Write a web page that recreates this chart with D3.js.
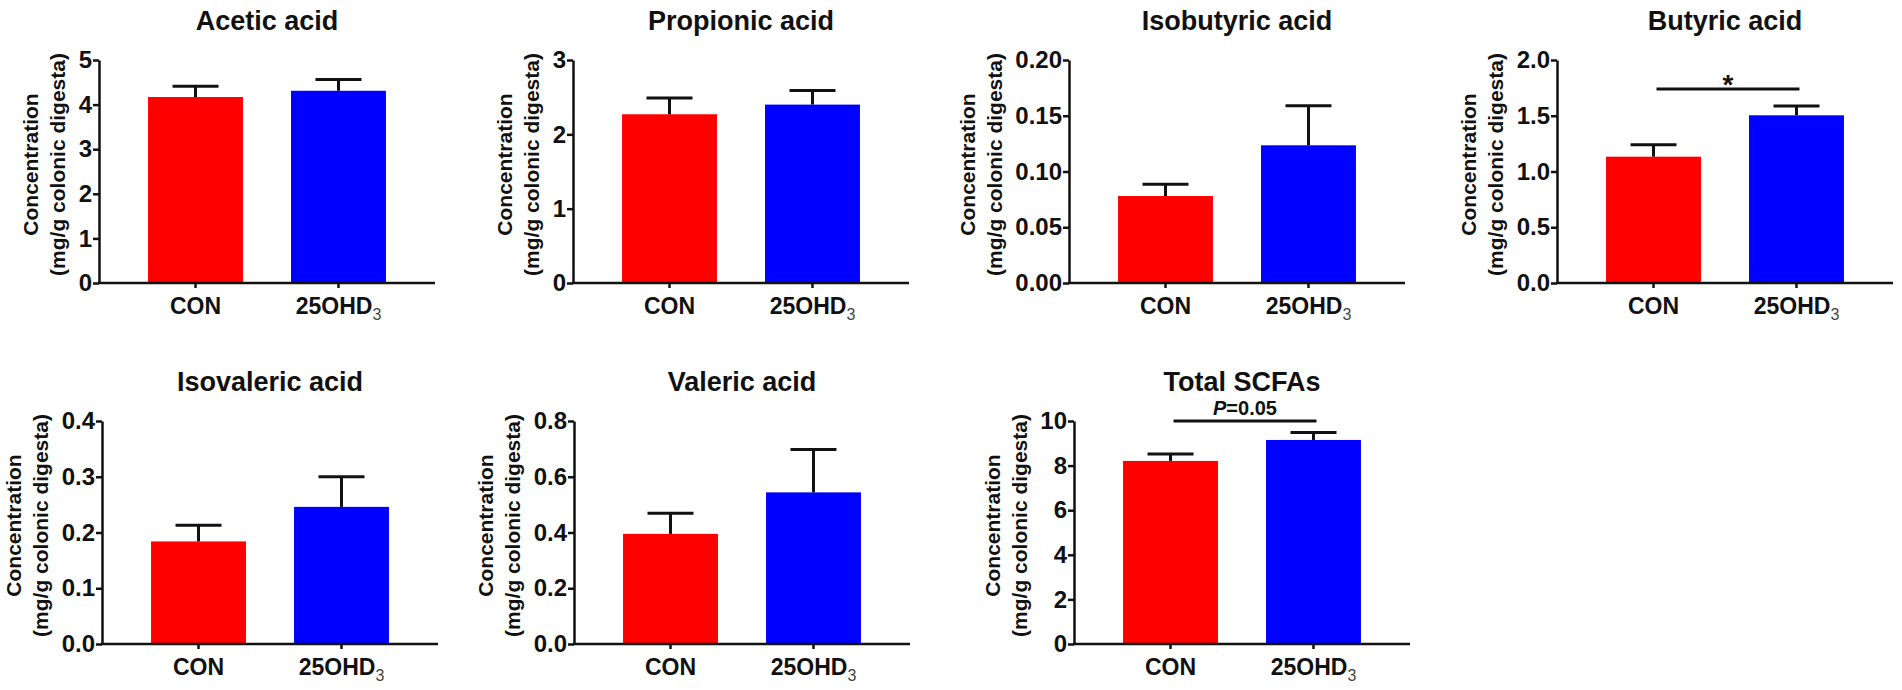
<!DOCTYPE html>
<html>
<head>
<meta charset="utf-8">
<script src="https://cdn.jsdelivr.net/npm/d3@7/dist/d3.min.js"></script>
<style>
  html, body { margin: 0; padding: 0; background: #fff; }
  svg { display: block; }
  text { font-family: "Liberation Sans", Arial, Helvetica, sans-serif; }
</style>
</head>
<body>
<svg id="chart" width="1902" height="690"></svg>
<script>
// ---------------- data ----------------
const groups = ["CON", "25OHD3"];
const panelTitles = ["Acetic acid", "Propionic acid", "Isobutyric acid", "Butyric acid",
                     "Isovaleric acid", "Valeric acid", "Total SCFAs"];
const conMeans  = [4.17, 2.27, 0.078, 1.133, 0.184, 0.395, 8.21];
const conSEM    = [0.24, 0.22, 0.0105, 0.107, 0.029, 0.074, 0.31];
const ohdMeans  = [4.31, 2.40, 0.1235, 1.504, 0.246, 0.544, 9.15];
const ohdSEM    = [0.25, 0.19, 0.0355, 0.083, 0.054, 0.154, 0.33];
const yMaxes    = [5, 3, 0.20, 2.0, 0.4, 0.8, 10];
const tickSteps = [1, 1, 0.05, 0.5, 0.1, 0.2, 2];
const tickFormats = ["d", "d", ".2f", ".1f", ".1f", ".1f", "d"];
const yLabelLines = ["Concentration", "(mg/g colonic digesta)"];
// significance annotations: panel index, bar level (data units), label
const sigPanels = [3, 6];
const sigLevels = [1.74, 10.0];
const sigLabels = ["*", "P=0.05"];

// ---------------- layout ----------------
const svg = d3.select("#chart");
const rowTop = [60, 421];
const plotH = 223;
const plotW = 336;
const colX = [[99, 573, 1069, 1557], [102, 574, 1074]];
const ink = "#111";

panelTitles.forEach((title, i) => {
  const row = i < 4 ? 0 : 1;
  const col = i < 4 ? i : i - 4;
  const ox = colX[row][col];
  const oy = rowTop[row];
  const g = svg.append("g").attr("transform", `translate(${ox},${oy})`);

  const x = d3.scaleBand().domain(groups).range([0, plotW])
    .paddingInner(0.336).paddingOuter(0.343);
  const y = d3.scaleLinear().domain([0, yMaxes[i]]).range([plotH, 0]);

  const means = [conMeans[i], ohdMeans[i]];
  const sems = [conSEM[i], ohdSEM[i]];
  const colors = ["#ff0000", "#0000ff"];

  // bars
  g.selectAll("rect.bar").data(groups).join("rect")
    .attr("class", "bar")
    .attr("x", d => x(d))
    .attr("width", x.bandwidth())
    .attr("y", (d, j) => y(means[j]))
    .attr("height", (d, j) => y(0) - y(means[j]))
    .attr("fill", (d, j) => colors[j]);

  // error bars (upper only)
  const capW = 46;
  groups.forEach((d, j) => {
    const cx = x(d) + x.bandwidth() / 2;
    g.append("line")
      .attr("x1", cx).attr("x2", cx)
      .attr("y1", y(means[j])).attr("y2", y(means[j] + sems[j]))
      .attr("stroke", ink).attr("stroke-width", 3);
    g.append("line")
      .attr("x1", cx - capW / 2).attr("x2", cx + capW / 2)
      .attr("y1", y(means[j] + sems[j])).attr("y2", y(means[j] + sems[j]))
      .attr("stroke", ink).attr("stroke-width", 3);
  });

  // y axis
  const ticks = d3.range(0, yMaxes[i] + tickSteps[i] / 2, tickSteps[i]);
  const yAxis = d3.axisLeft(y).tickValues(ticks)
    .tickFormat(d3.format(tickFormats[i]))
    .tickSize(6).tickSizeOuter(0).tickPadding(1);
  const ya = g.append("g").call(yAxis);
  ya.select(".domain").attr("stroke", ink).attr("stroke-width", 2.5);
  ya.selectAll(".tick line").attr("stroke", ink).attr("stroke-width", 2.5);
  ya.selectAll(".tick text")
    .attr("font-size", 24).attr("font-weight", "bold").attr("fill", ink)
    .attr("font-family", "Liberation Sans, Arial, sans-serif");

  // x axis
  const xAxis = d3.axisBottom(x).tickSize(5).tickSizeOuter(0).tickFormat("");
  const xa = g.append("g").attr("transform", `translate(0,${plotH})`).call(xAxis);
  xa.select(".domain").attr("stroke", ink).attr("stroke-width", 2.5)
    .attr("d", `M-1,0H${plotW}`);
  xa.selectAll(".tick line").attr("stroke", ink).attr("stroke-width", 2.5);

  // category labels
  groups.forEach(d => {
    const t = g.append("text")
      .attr("x", x(d) + x.bandwidth() / 2)
      .attr("y", plotH + 31)
      .attr("text-anchor", "middle")
      .attr("font-size", 23).attr("font-weight", "bold").attr("fill", ink);
    if (d === "25OHD3") {
      t.append("tspan").text("25OHD");
      t.append("tspan").text("3").attr("font-size", 16).attr("font-weight", "normal")
        .attr("fill", "#444").attr("dy", 6);
    } else {
      t.text(d);
    }
  });

  // title
  g.append("text")
    .attr("x", (x(groups[0]) + x(groups[1]) + x.bandwidth()) / 2 + 0)
    .attr("y", -30)
    .attr("text-anchor", "middle")
    .attr("font-size", 27).attr("font-weight", "bold").attr("fill", ink)
    .text(title);

  // y label
  const tickLeft = d3.min(ya.selectAll(".tick text").nodes(), n => n.getBBox().x);
  const line2X = tickLeft - 6 - 15;
  const cy = plotH / 2 - 7;
  yLabelLines.forEach((ln, k) => {
    const lx = k === 1 ? line2X : line2X - 27;
    g.append("text")
      .attr("transform", `translate(${lx},${cy}) rotate(-90)`)
      .attr("text-anchor", "middle")
      .attr("dy", "0.35em")
      .attr("font-size", 21).attr("font-weight", "bold").attr("fill", ink)
      .text(ln);
  });

  // significance
  const si = sigPanels.indexOf(i);
  if (si >= 0) {
    const c0 = x(groups[0]) + x.bandwidth() / 2 + 3;
    const c1 = x(groups[1]) + x.bandwidth() / 2 + 3;
    const ly = y(sigLevels[si]);
    g.append("line").attr("x1", c0).attr("x2", c1).attr("y1", ly).attr("y2", ly)
      .attr("stroke", ink).attr("stroke-width", 3);
    const lab = sigLabels[si];
    const st = g.append("text")
      .attr("x", (c0 + c1) / 2).attr("text-anchor", "middle")
      .attr("font-weight", "bold").attr("fill", ink);
    if (lab === "*") {
      st.attr("y", ly + 5).attr("font-size", 28).text("*");
    } else {
      st.attr("y", ly - 6).attr("font-size", 20);
      st.append("tspan").attr("font-style", "italic").text(lab.slice(0, 1));
      st.append("tspan").text(lab.slice(1));
    }
  }
});
</script>
</body>
</html>
